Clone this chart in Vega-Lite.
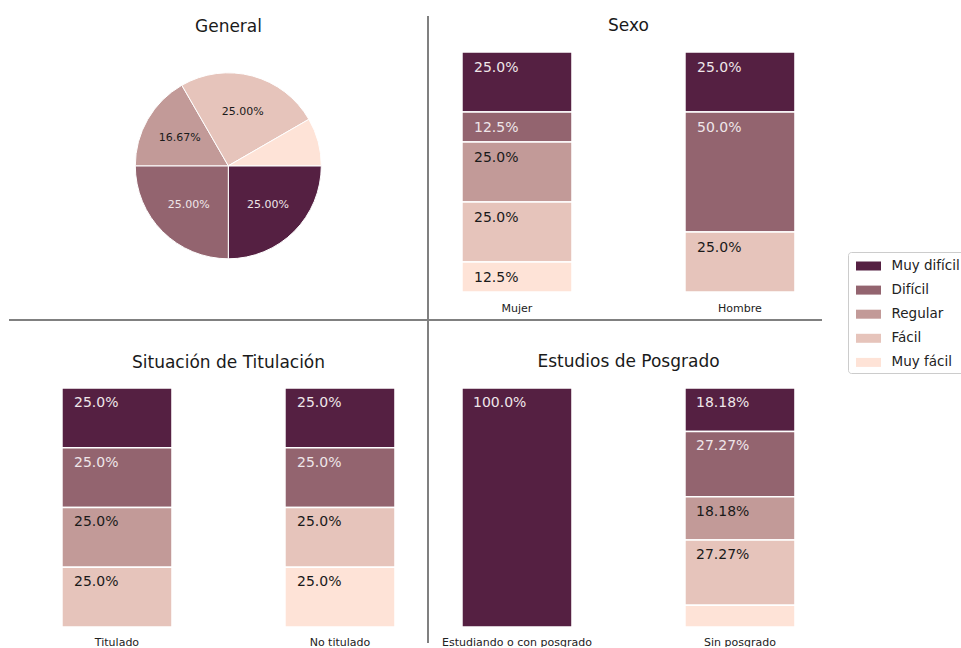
{
  "$schema": "https://vega.github.io/schema/vega-lite/v6.json",
  "autosize": {"type": "pad"},
  "padding": {"left": 8, "top": 15, "right": 0, "bottom": 0},
  "background": "white",
  "columns": 2,
  "spacing": 0,
  "bounds": "flush",
  "config": {
    "font": "DejaVu Sans",
    "view": {"stroke": null},
    "title": {"font": "DejaVu Sans", "fontSize": 17, "fontWeight": "normal", "color": "#1a1a1a", "baseline": "alphabetic", "anchor": "middle", "frame": "group"},
    "axis": {"labelFont": "DejaVu Sans", "grid": false},
    "text": {"font": "DejaVu Sans"}
  },
  "datasets": {
    "general": [
      {"nivel_nombre": "Muy difícil", "nivel": 5, "pct": 25, "etiqueta": "25.00%"},
      {"nivel_nombre": "Difícil", "nivel": 4, "pct": 25, "etiqueta": "25.00%"},
      {"nivel_nombre": "Regular", "nivel": 3, "pct": 16.67, "etiqueta": "16.67%"},
      {"nivel_nombre": "Fácil", "nivel": 2, "pct": 25, "etiqueta": "25.00%"},
      {"nivel_nombre": "Muy fácil", "nivel": 1, "pct": 8.33, "etiqueta": ""}
    ],
    "sexo": [
      {"grupo": "Mujer", "nivel_nombre": "Muy difícil", "nivel": 5, "pct": 25, "etiqueta": "25.0%"},
      {"grupo": "Mujer", "nivel_nombre": "Difícil", "nivel": 4, "pct": 12.5, "etiqueta": "12.5%"},
      {"grupo": "Mujer", "nivel_nombre": "Regular", "nivel": 3, "pct": 25, "etiqueta": "25.0%"},
      {"grupo": "Mujer", "nivel_nombre": "Fácil", "nivel": 2, "pct": 25, "etiqueta": "25.0%"},
      {"grupo": "Mujer", "nivel_nombre": "Muy fácil", "nivel": 1, "pct": 12.5, "etiqueta": "12.5%"},
      {"grupo": "Hombre", "nivel_nombre": "Muy difícil", "nivel": 5, "pct": 25, "etiqueta": "25.0%"},
      {"grupo": "Hombre", "nivel_nombre": "Difícil", "nivel": 4, "pct": 50, "etiqueta": "50.0%"},
      {"grupo": "Hombre", "nivel_nombre": "Fácil", "nivel": 2, "pct": 25, "etiqueta": "25.0%"}
    ],
    "titulacion": [
      {"grupo": "Titulado", "nivel_nombre": "Muy difícil", "nivel": 5, "pct": 25, "etiqueta": "25.0%"},
      {"grupo": "Titulado", "nivel_nombre": "Difícil", "nivel": 4, "pct": 25, "etiqueta": "25.0%"},
      {"grupo": "Titulado", "nivel_nombre": "Regular", "nivel": 3, "pct": 25, "etiqueta": "25.0%"},
      {"grupo": "Titulado", "nivel_nombre": "Fácil", "nivel": 2, "pct": 25, "etiqueta": "25.0%"},
      {"grupo": "No titulado", "nivel_nombre": "Muy difícil", "nivel": 5, "pct": 25, "etiqueta": "25.0%"},
      {"grupo": "No titulado", "nivel_nombre": "Difícil", "nivel": 4, "pct": 25, "etiqueta": "25.0%"},
      {"grupo": "No titulado", "nivel_nombre": "Fácil", "nivel": 2, "pct": 25, "etiqueta": "25.0%"},
      {"grupo": "No titulado", "nivel_nombre": "Muy fácil", "nivel": 1, "pct": 25, "etiqueta": "25.0%"}
    ],
    "posgrado": [
      {"grupo": "Estudiando o con posgrado", "nivel_nombre": "Muy difícil", "nivel": 5, "pct": 100, "etiqueta": "100.0%"},
      {"grupo": "Sin posgrado", "nivel_nombre": "Muy difícil", "nivel": 5, "pct": 18.18, "etiqueta": "18.18%"},
      {"grupo": "Sin posgrado", "nivel_nombre": "Difícil", "nivel": 4, "pct": 27.27, "etiqueta": "27.27%"},
      {"grupo": "Sin posgrado", "nivel_nombre": "Regular", "nivel": 3, "pct": 18.18, "etiqueta": "18.18%"},
      {"grupo": "Sin posgrado", "nivel_nombre": "Fácil", "nivel": 2, "pct": 27.27, "etiqueta": "27.27%"},
      {"grupo": "Sin posgrado", "nivel_nombre": "Muy fácil", "nivel": 1, "pct": 9.09, "etiqueta": ""}
    ]
  },
  "concat": [
    {
      "title": {"text": "General", "offset": -19.7, "dx": 10},
      "width": 419,
      "height": 304,
      "data": {"name": "general"},
      "layer": [
        {
          "mark": {"type": "arc", "outerRadius": 93, "stroke": "white", "strokeWidth": 1, "xOffset": 9.8, "yOffset": -2.2},
          "encoding": {
            "theta": {"field": "pct", "type": "quantitative", "stack": true, "scale": {"range": [1.5708, 7.854]}},
            "order": {"field": "nivel", "sort": "descending"},
            "color": {"field": "nivel_nombre", "type": "nominal", "scale": {"domain": ["Muy difícil", "Difícil", "Regular", "Fácil", "Muy fácil"], "range": ["#552042", "#93646f", "#c29a98", "#e6c4bb", "#fee3d7"]}, "legend": {"title": null, "orient": "none", "legendX": 839, "legendY": 236, "symbolType": "M-1.25,-0.45H1.25V0.45H-1.25Z", "symbolSize": 400, "symbolStrokeWidth": 0, "symbolOffset": 6.5, "labelOffset": 13, "labelFontSize": 13.5, "labelFont": "DejaVu Sans", "labelColor": "#222222", "rowPadding": 7.1, "padding": 4, "strokeColor": "#cccccc", "cornerRadius": 3, "fillColor": "white"}}
          }
        },
        {
          "mark": {"type": "text", "radius": 56, "fontSize": 11, "xOffset": 9.8, "yOffset": -2.2, "align": "center", "baseline": "middle"},
          "encoding": {
            "theta": {"field": "pct", "type": "quantitative", "stack": true},
            "order": {"field": "nivel", "sort": "descending"},
            "text": {"field": "etiqueta"},
            "color": {"condition": {"test": "datum.nivel >= 4", "value": "#efe6e9"}, "value": "#1a1a1a"}
          }
        },
        {
          "data": {"values": [{}]},
          "mark": {"type": "rule", "color": "#808080", "strokeWidth": 2},
          "encoding": {"y": {"value": "height"}}
        }
      ]
    },
    {
      "title": {"text": "Sexo", "offset": -19.7, "dx": 3.5},
      "width": 394,
      "height": 304,
      "data": {"name": "sexo"},
      "layer": [
        {
          "transform": [{"stack": "pct", "groupby": ["grupo"], "sort": [{"field": "nivel", "order": "ascending"}], "as": ["y0", "y1"]}],
          "mark": {"type": "bar", "stroke": "white", "strokeWidth": 1.5},
          "encoding": {
            "x": {"field": "grupo", "type": "nominal", "scale": {"domain": ["Mujer", "Hombre"], "paddingInner": 0.5067, "paddingOuter": 0.1368, "align": 0.557}, "axis": {"orient": "bottom", "domain": false, "ticks": false, "tickSize": 0, "labelPadding": -9, "labelBaseline": "alphabetic", "labelFontSize": 11, "labelColor": "#222222", "labelAngle": 0, "title": null}},
            "y": {"field": "y0", "type": "quantitative", "scale": {"domain": [-11.667, 115], "nice": false, "zero": false}, "axis": null},
            "y2": {"field": "y1"},
            "color": {"field": "nivel_nombre", "type": "nominal", "legend": {"title": null, "orient": "none", "legendX": 839, "legendY": 236, "symbolType": "M-1.25,-0.45H1.25V0.45H-1.25Z", "symbolSize": 400, "symbolStrokeWidth": 0, "symbolOffset": 6.5, "labelOffset": 13, "labelFontSize": 13.5, "labelFont": "DejaVu Sans", "labelColor": "#222222", "rowPadding": 7.1, "padding": 4, "strokeColor": "#cccccc", "cornerRadius": 3, "fillColor": "white"}}
          }
        },
        {
          "transform": [{"stack": "pct", "groupby": ["grupo"], "sort": [{"field": "nivel", "order": "ascending"}], "as": ["y0", "y1"]}],
          "mark": {"type": "text", "align": "left", "baseline": "alphabetic", "dx": 12, "dy": 20, "fontSize": 14},
          "encoding": {
            "x": {"field": "grupo", "type": "nominal", "bandPosition": 0},
            "y": {"field": "y1", "type": "quantitative"},
            "text": {"field": "etiqueta"},
            "color": {"condition": {"test": "datum.nivel >= 4", "value": "#efe6e9"}, "value": "#1a1a1a"}
          }
        },
        {
          "data": {"values": [{}]},
          "mark": {"type": "rule", "color": "#808080", "strokeWidth": 2},
          "encoding": {"x": {"value": 0}}
        },
        {
          "data": {"values": [{}]},
          "mark": {"type": "rule", "color": "#808080", "strokeWidth": 2},
          "encoding": {"y": {"value": "height"}}
        }
      ]
    },
    {
      "title": {"text": "Situación de Titulación", "offset": -52, "dx": 10},
      "width": 419,
      "height": 323,
      "data": {"name": "titulacion"},
      "layer": [
        {
          "transform": [{"stack": "pct", "groupby": ["grupo"], "sort": [{"field": "nivel", "order": "ascending"}], "as": ["y0", "y1"]}],
          "mark": {"type": "bar", "stroke": "white", "strokeWidth": 1.5},
          "encoding": {
            "x": {"field": "grupo", "type": "nominal", "scale": {"domain": ["Titulado", "No titulado"], "paddingInner": 0.5067, "paddingOuter": 0.1928, "align": 0.616}, "axis": {"orient": "bottom", "domain": false, "ticks": false, "tickSize": 0, "labelPadding": 2, "labelBaseline": "alphabetic", "labelFontSize": 11, "labelColor": "#222222", "labelAngle": 0, "title": null}},
            "y": {"field": "y0", "type": "quantitative", "scale": {"domain": [-6.695, 128.452], "nice": false, "zero": false}, "axis": null},
            "y2": {"field": "y1"},
            "color": {"field": "nivel_nombre", "type": "nominal", "legend": {"title": null, "orient": "none", "legendX": 839, "legendY": 236, "symbolType": "M-1.25,-0.45H1.25V0.45H-1.25Z", "symbolSize": 400, "symbolStrokeWidth": 0, "symbolOffset": 6.5, "labelOffset": 13, "labelFontSize": 13.5, "labelFont": "DejaVu Sans", "labelColor": "#222222", "rowPadding": 7.1, "padding": 4, "strokeColor": "#cccccc", "cornerRadius": 3, "fillColor": "white"}}
          }
        },
        {
          "transform": [{"stack": "pct", "groupby": ["grupo"], "sort": [{"field": "nivel", "order": "ascending"}], "as": ["y0", "y1"]}],
          "mark": {"type": "text", "align": "left", "baseline": "alphabetic", "dx": 12, "dy": 19, "fontSize": 14},
          "encoding": {
            "x": {"field": "grupo", "type": "nominal", "bandPosition": 0},
            "y": {"field": "y1", "type": "quantitative"},
            "text": {"field": "etiqueta"},
            "color": {"condition": {"test": "datum.nivel >= 4", "value": "#efe6e9"}, "value": "#1a1a1a"}
          }
        }
      ]
    },
    {
      "title": {"text": "Estudios de Posgrado", "offset": -52, "dx": 3.5},
      "width": 394,
      "height": 323,
      "data": {"name": "posgrado"},
      "layer": [
        {
          "transform": [{"stack": "pct", "groupby": ["grupo"], "sort": [{"field": "nivel", "order": "ascending"}], "as": ["y0", "y1"]}],
          "mark": {"type": "bar", "stroke": "white", "strokeWidth": 1.5},
          "encoding": {
            "x": {"field": "grupo", "type": "nominal", "scale": {"domain": ["Estudiando o con posgrado", "Sin posgrado"], "paddingInner": 0.5067, "paddingOuter": 0.1368, "align": 0.557}, "axis": {"orient": "bottom", "domain": false, "ticks": false, "tickSize": 0, "labelPadding": 2, "labelBaseline": "alphabetic", "labelFontSize": 11, "labelColor": "#222222", "labelAngle": 0, "title": null}},
            "y": {"field": "y0", "type": "quantitative", "scale": {"domain": [-6.695, 128.452], "nice": false, "zero": false}, "axis": null},
            "y2": {"field": "y1"},
            "color": {"field": "nivel_nombre", "type": "nominal", "legend": {"title": null, "orient": "none", "legendX": 839, "legendY": 236, "symbolType": "M-1.25,-0.45H1.25V0.45H-1.25Z", "symbolSize": 400, "symbolStrokeWidth": 0, "symbolOffset": 6.5, "labelOffset": 13, "labelFontSize": 13.5, "labelFont": "DejaVu Sans", "labelColor": "#222222", "rowPadding": 7.1, "padding": 4, "strokeColor": "#cccccc", "cornerRadius": 3, "fillColor": "white"}}
          }
        },
        {
          "transform": [{"stack": "pct", "groupby": ["grupo"], "sort": [{"field": "nivel", "order": "ascending"}], "as": ["y0", "y1"]}],
          "mark": {"type": "text", "align": "left", "baseline": "alphabetic", "dx": 11, "dy": 19, "fontSize": 14},
          "encoding": {
            "x": {"field": "grupo", "type": "nominal", "bandPosition": 0},
            "y": {"field": "y1", "type": "quantitative"},
            "text": {"field": "etiqueta"},
            "color": {"condition": {"test": "datum.nivel >= 4", "value": "#efe6e9"}, "value": "#1a1a1a"}
          }
        },
        {
          "data": {"values": [{}]},
          "mark": {"type": "rule", "color": "#808080", "strokeWidth": 2},
          "encoding": {"x": {"value": 0}}
        }
      ]
    }
  ]
}
